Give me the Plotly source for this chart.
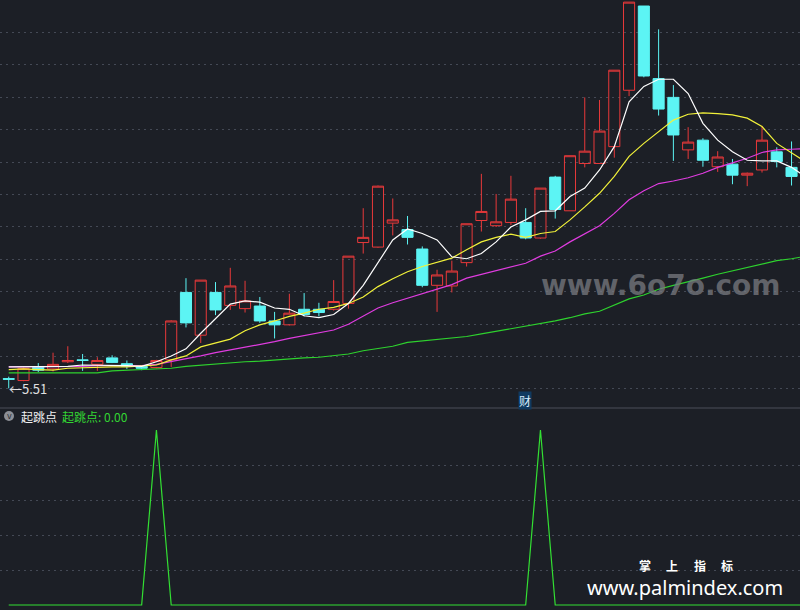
import plotly.graph_objects as go

# ---------------- data ----------------
idx = list(range(-1, 53))          # candle index (first one partly off-screen)
idx_ma = list(range(-1, 54))       # moving averages run to the right edge

opens = [5.66, 5.63, 5.84, 5.81, 5.92, 5.95, 5.88, 5.98, 5.89, 5.85,
         5.83, 5.95, 6.99, 6.33, 6.99, 6.79, 6.74, 6.78, 6.55, 6.49,
         6.73, 6.73, 6.73, 6.82, 7.76, 7.69, 8.06, 7.96, 7.66, 7.10,
         7.09, 7.45, 8.10, 8.02, 8.07, 8.07, 7.83, 8.77, 8.25, 8.98,
         8.98, 9.24, 10.11, 11.41, 10.29, 10.00, 9.19, 9.34, 8.93, 8.97,
         8.80, 8.88, 9.16, 8.92]
highs = [5.69, 5.83, 5.90, 6.06, 6.16, 6.04, 5.99, 6.02, 5.94, 5.87,
         5.95, 6.56, 7.21, 7.18, 7.15, 7.37, 7.17, 6.92, 6.69, 6.97,
         6.98, 6.83, 7.18, 7.55, 8.29, 8.64, 8.44, 8.17, 7.70, 7.34,
         7.48, 8.05, 8.82, 8.51, 8.79, 8.29, 8.60, 8.79, 9.10, 10.00,
         9.96, 10.42, 11.47, 11.41, 11.05, 10.19, 9.54, 9.37, 9.17, 9.05,
         8.84, 9.56, 9.23, 9.32]
lows = [5.51, 5.62, 5.76, 5.77, 5.90, 5.78, 5.78, 5.90, 5.81, 5.79,
        5.82, 5.84, 6.45, 6.21, 6.64, 6.72, 6.68, 6.52, 6.28, 6.48,
        6.62, 6.62, 6.71, 6.74, 7.59, 7.68, 7.87, 7.73, 7.07, 6.69,
        6.99, 7.39, 7.93, 8.00, 8.03, 7.81, 7.82, 8.13, 8.25, 8.92,
        8.98, 9.07, 10.02, 10.31, 9.72, 9.02, 9.05, 8.93, 8.85, 8.66,
        8.63, 8.84, 8.92, 8.64]
closes = [5.65, 5.82, 5.79, 5.88, 5.94, 5.94, 5.94, 5.91, 5.85, 5.82,
          5.94, 6.55, 6.52, 7.18, 6.72, 7.09, 6.86, 6.55, 6.49, 6.67,
          6.65, 6.68, 6.85, 7.55, 7.84, 8.63, 8.11, 7.84, 7.10, 7.26,
          7.32, 8.05, 8.24, 8.08, 8.43, 7.83, 8.60, 8.27, 9.10, 9.17,
          9.48, 10.42, 11.47, 10.33, 9.82, 9.42, 9.31, 9.03, 9.08, 8.80,
          8.83, 9.34, 9.01, 8.78]

ma5 = [5.84, 5.84, 5.84, 5.85, 5.85, 5.87, 5.87, 5.87, 5.86, 5.85,
       5.92, 6.01, 6.12, 6.36, 6.59, 6.81, 6.86, 6.84, 6.75, 6.73,
       6.63, 6.60, 6.65, 6.82, 7.10, 7.44, 7.80, 7.97, 7.90, 7.80,
       7.54, 7.51, 7.59, 7.77, 8.00, 8.11, 8.24, 8.25, 8.47, 8.60,
       8.88, 9.24, 9.93, 10.17, 10.28, 10.28, 10.06, 9.60, 9.34, 9.16,
       9.03, 9.02, 9.02, 8.92, 8.77]
ma10 = [5.80, 5.81, 5.80, 5.79, 5.82, 5.83, 5.84, 5.84, 5.84, 5.85,
        5.87, 5.95, 6.01, 6.15, 6.21, 6.27, 6.40, 6.49, 6.55, 6.62,
        6.67, 6.73, 6.76, 6.82, 6.92, 7.08, 7.20, 7.31, 7.39, 7.45,
        7.52, 7.65, 7.77, 7.84, 7.89, 7.84, 7.90, 7.93, 8.11, 8.31,
        8.52, 8.78, 9.09, 9.29, 9.47, 9.65, 9.74, 9.76, 9.75, 9.73,
        9.68, 9.55, 9.29, 9.14, 9.00]
ma20 = [5.84, 5.84, 5.85, 5.85, 5.85, 5.85, 5.86, 5.86, 5.86, 5.86,
        5.88, 5.92, 5.97, 6.01, 6.06, 6.10, 6.15, 6.19, 6.23, 6.28,
        6.32, 6.36, 6.41, 6.50, 6.63, 6.75, 6.83, 6.90, 6.96, 7.04,
        7.11, 7.21, 7.27, 7.33, 7.38, 7.44, 7.55, 7.63, 7.77, 7.90,
        8.02, 8.21, 8.42, 8.56, 8.67, 8.71, 8.76, 8.83, 8.92, 8.99,
        9.06, 9.15, 9.19, 9.20, 9.21]
ma60 = [5.75, 5.75, 5.75, 5.75, 5.75, 5.75, 5.75, 5.78, 5.79, 5.79,
        5.80, 5.82, 5.85, 5.87, 5.89, 5.90, 5.92, 5.93, 5.95, 5.96,
        5.98, 5.99, 6.01, 6.04, 6.09, 6.13, 6.16, 6.22, 6.24, 6.26,
        6.29, 6.31, 6.35, 6.39, 6.43, 6.46, 6.50, 6.55, 6.60, 6.66,
        6.70, 6.80, 6.89, 6.95, 7.04, 7.10, 7.15, 7.21, 7.27, 7.32,
        7.38, 7.43, 7.48, 7.51, 7.55]

signal = [0, 0, 0, 0, 0, 0, 0, 0, 0, 0, 1, 0, 0, 0, 0, 0, 0, 0, 0, 0,
          0, 0, 0, 0, 0, 0, 0, 0, 0, 0, 0, 0, 0, 0, 0, 0, 1, 0, 0, 0,
          0, 0, 0, 0, 0, 0, 0, 0, 0, 0, 0, 0, 0, 0, 0]

price_grid = [5.5, 6.0, 6.5, 7.0, 7.5, 8.0, 8.5, 9.0, 9.5, 10.0, 10.5, 11.0]
signal_grid = [0.2, 0.4, 0.6, 0.8]
low_mark = 5.51

# ---------------- styles ----------------
BG = "#1c1f26"
GRID = "#444955"
RED = "#e8393a"
CYAN = "#5cf4f4"
W, H = 800, 610
CJK = "Noto Sans CJK SC"

fig = go.Figure()

fig.add_trace(go.Candlestick(
    x=idx, open=opens, high=highs, low=lows, close=closes,
    increasing=dict(line=dict(color=RED, width=1), fillcolor="rgba(0,0,0,0)"),
    decreasing=dict(line=dict(color=CYAN, width=1), fillcolor=CYAN),
    whiskerwidth=0, xaxis="x", yaxis="y", hoverinfo="skip",
))

for ys, col in [(ma60, "#2ed22e"), (ma20, "#e03ce0"), (ma10, "#f2f23a"), (ma5, "#ffffff")]:
    fig.add_trace(go.Scatter(x=idx_ma, y=ys, mode="lines",
                             line=dict(color=col, width=1.2),
                             xaxis="x", yaxis="y", hoverinfo="skip"))

fig.add_trace(go.Scatter(x=idx_ma, y=signal, mode="lines",
                         line=dict(color="#33e033", width=1.2),
                         xaxis="x2", yaxis="y2", hoverinfo="skip"))

xr = [-1.591, 52.573]

fig.update_layout(
    width=W, height=H, margin=dict(l=0, r=0, t=0, b=0),
    paper_bgcolor=BG, plot_bgcolor=BG, showlegend=False, hovermode=False,
    dragmode=False,
    boxgap=0.25, boxgroupgap=0,
    xaxis=dict(domain=[0, 1], range=xr, showticklabels=False, showgrid=False,
               zeroline=False, rangeslider=dict(visible=False), anchor="y"),
    yaxis=dict(domain=[(H - 407) / H, 1], range=[5.222, 11.503],
               tickvals=price_grid, showticklabels=False, showgrid=True,
               gridcolor=GRID, griddash="2px,4px", gridwidth=1, zeroline=False),
    xaxis2=dict(domain=[0, 1], range=xr, showticklabels=False, showgrid=False,
                zeroline=False, anchor="y2"),
    yaxis2=dict(domain=[0, (H - 409) / H], range=[-0.0286, 1.12],
                tickvals=signal_grid, showticklabels=False, showgrid=True,
                gridcolor=GRID, griddash="2px,4px", gridwidth=1, zeroline=False,
                anchor="x2"),
)

# panel separator
fig.add_shape(type="line", xref="paper", yref="paper", x0=0, x1=1,
              y0=(H - 408) / H, y1=(H - 408) / H,
              line=dict(color="#4a4e58", width=1))
# collapse icon
fig.add_shape(type="circle", xref="paper", yref="paper",
              x0=4 / W, x1=14 / W, y0=(H - 421) / H, y1=(H - 411) / H,
              fillcolor="#8c8f96", line=dict(width=0))

ann = []
ann.append(dict(x=7 / W, y=low_mark, xref="paper", yref="y", text="←5.51",
                showarrow=False, xanchor="left", yanchor="middle",
                font=dict(size=13, color="#e0e0e0", family=CJK)))
ann.append(dict(x=525 / W, y=(H - 400) / H, xref="paper", yref="paper", text="财",
                showarrow=False, xanchor="center", yanchor="middle",
                bgcolor="#103a60", borderpad=0,
                font=dict(size=12, color="#d8ecff", family=CJK)))
ann.append(dict(x=9 / W, y=(H - 416.5) / H, xref="paper", yref="paper", text="v",
                showarrow=False, xanchor="center", yanchor="middle",
                font=dict(size=8, color="#2a2d33", family="DejaVu Sans")))
ann.append(dict(x=19 / W, y=(H - 416) / H, xref="paper", yref="paper", text="起跳点",
                showarrow=False, xanchor="left", yanchor="middle",
                font=dict(size=12, color="#f0f0f0", family=CJK)))
ann.append(dict(x=60 / W, y=(H - 416) / H, xref="paper", yref="paper", text="起跳点: 0.00",
                showarrow=False, xanchor="left", yanchor="middle",
                font=dict(size=12, color="#33d633", family=CJK)))
ann.append(dict(x=661 / W, y=(H - 285) / H, xref="paper", yref="paper",
                text="<b>www.6o7o.com</b>", showarrow=False,
                xanchor="center", yanchor="middle",
                font=dict(size=28, color="rgba(120,122,128,0.75)", family="DejaVu Sans")))
for ch, cx in zip(["掌", "上", "指", "标"], [645, 672, 700, 727]):
    ann.append(dict(x=cx / W, y=(H - 565) / H, xref="paper", yref="paper",
                    text="<b>" + ch + "</b>", showarrow=False,
                    xanchor="center", yanchor="middle",
                    font=dict(size=12, color="#ffffff", family=CJK)))
ann.append(dict(x=685 / W, y=(H - 587) / H, xref="paper", yref="paper",
                text="www.palmindex.com", showarrow=False,
                xanchor="center", yanchor="middle",
                font=dict(size=20, color="#ffffff", family="Noto Sans")))
fig.update_layout(annotations=ann)

fig.write_html("out.html", config={"displayModeBar": False, "staticPlot": True},
               post_script="document.body.style.margin='0px';")
